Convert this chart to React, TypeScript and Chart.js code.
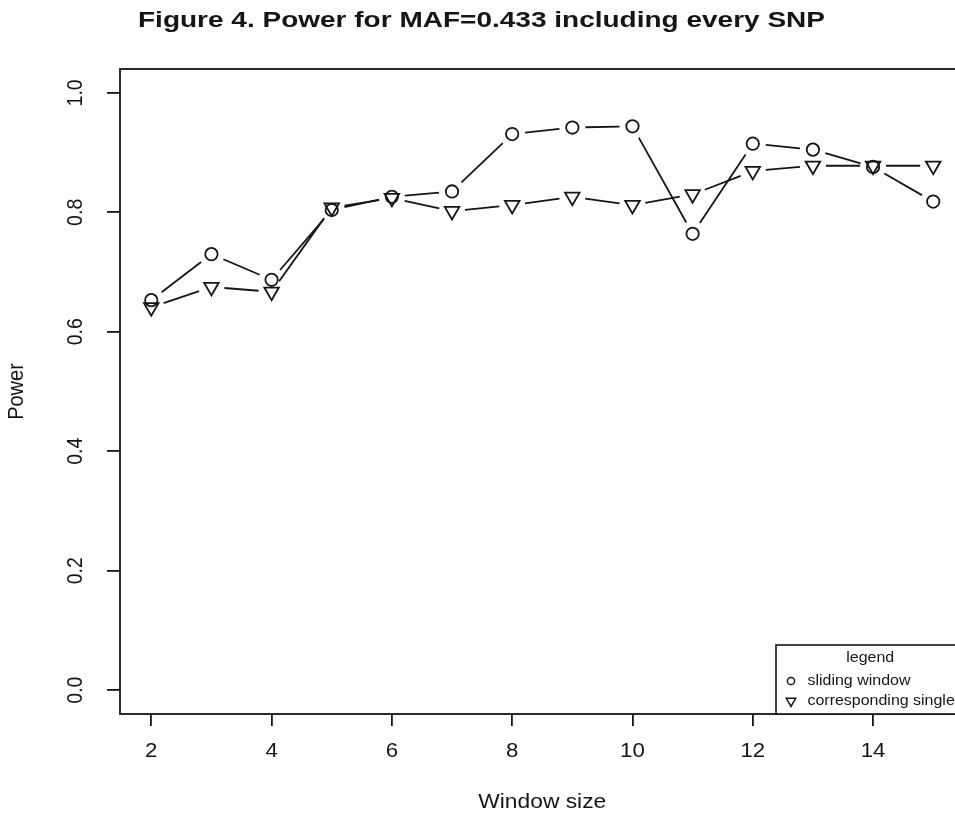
import React, { useEffect, useRef } from "react";
import { Chart, registerables } from "chart.js";

Chart.register(...registerables);

const windowSizes = [2, 3, 4, 5, 6, 7, 8, 9, 10, 11, 12, 13, 14, 15];
const slidingWindow = [0.653, 0.730, 0.687, 0.804, 0.826, 0.835, 0.931, 0.942, 0.944, 0.764, 0.915, 0.905, 0.876, 0.818];
const singleSnp = [0.641, 0.675, 0.667, 0.808, 0.824, 0.802, 0.812, 0.826, 0.812, 0.830, 0.869, 0.878, 0.878, 0.878];
const xTickValues = [2, 4, 6, 8, 10, 12, 14];
const yTickValues = [0, 0.2, 0.4, 0.6, 0.8, 1.0];
const yTickLabels = ["0.0", "0.2", "0.4", "0.6", "0.8", "1.0"];
const titleText = "Figure 4. Power for MAF=0.433 including every SNP";
const xTitle = "Window size";
const yTitle = "Power";
const legendTitle = "legend";
const seriesNames = ["sliding window", "corresponding single"];

const INK = "#151515";
const SX = 1.14; // horizontal stretch of the reference's text
const FONT = "'Liberation Sans', Arial, Helvetica, sans-serif";

function hText(ctx: CanvasRenderingContext2D, t: string, x: number, y: number, sx = SX) {
  ctx.save();
  ctx.translate(x, y);
  ctx.scale(sx, 1);
  ctx.fillText(t, 0, 0);
  ctx.restore();
}
function vText(ctx: CanvasRenderingContext2D, t: string, x: number, y: number) {
  ctx.save();
  ctx.translate(x, y);
  ctx.rotate(-Math.PI / 2);
  ctx.scale(1, SX);
  ctx.fillText(t, 0, 0);
  ctx.restore();
}

const gapLines = {
  id: "gapLines",
  beforeDatasetsDraw(chart: any) {
    const ctx = chart.ctx as CanvasRenderingContext2D;
    ctx.save();
    ctx.strokeStyle = INK;
    ctx.lineWidth = 1.8;
    chart.data.datasets.forEach((_ds: any, i: number) => {
      const pts = chart.getDatasetMeta(i).data;
      for (let k = 0; k < pts.length - 1; k++) {
        const a = pts[k], b = pts[k + 1];
        const dx = b.x - a.x, dy = b.y - a.y;
        const d = Math.hypot(dx, dy);
        const g = 13;
        if (d <= 2 * g) continue;
        const ux = dx / d, uy = dy / d;
        ctx.beginPath();
        ctx.moveTo(a.x + ux * g, a.y + uy * g);
        ctx.lineTo(b.x - ux * g, b.y - uy * g);
        ctx.stroke();
      }
    });
    ctx.restore();
  },
};

const decorations = {
  id: "decorations",
  afterDraw(chart: any) {
    const ctx = chart.ctx as CanvasRenderingContext2D;
    const ca = chart.chartArea;
    const xs = chart.scales.x;
    const ys = chart.scales.y;
    ctx.save();
    // plot box
    ctx.strokeStyle = INK;
    ctx.lineWidth = 1.8;
    ctx.strokeRect(ca.left, ca.top, ca.right - ca.left, ca.bottom - ca.top);

    ctx.fillStyle = INK;
    // x tick labels
    ctx.font = `19.5px ${FONT}`;
    ctx.textAlign = "center";
    ctx.textBaseline = "middle";
    xTickValues.forEach((v) => {
      hText(ctx, String(v), xs.getPixelForValue(v), 752);
    });
    // y tick labels (rotated)
    yTickValues.forEach((v, i) => {
      vText(ctx, yTickLabels[i], 76, ys.getPixelForValue(v));
    });
    // axis titles
    ctx.font = `20px ${FONT}`;
    hText(ctx, xTitle, (ca.left + ca.right) / 2, 802);
    vText(ctx, yTitle, 17, (ca.top + ca.bottom) / 2);

    // title
    ctx.font = `bold 22.5px ${FONT}`;
    const w = ctx.measureText(titleText).width;
    const sx = 687 / w;
    ctx.textBaseline = "alphabetic";
    hText(ctx, titleText, 481.5, 27, sx);

    // legend
    const lx = 776, lt = 645, lb = ca.bottom, lr = ca.right;
    ctx.fillStyle = "#fff";
    ctx.fillRect(lx, lt, lr - lx, lb - lt);
    ctx.strokeStyle = INK;
    ctx.lineWidth = 1.6;
    ctx.strokeRect(lx, lt, lr - lx, lb - lt);
    ctx.fillStyle = INK;
    ctx.font = `14px ${FONT}`;
    ctx.textBaseline = "middle";
    ctx.textAlign = "center";
    hText(ctx, legendTitle, (lx + lr) / 2, 658);
    ctx.textAlign = "left";
    hText(ctx, seriesNames[0], 807.5, 681);
    hText(ctx, seriesNames[1], 807.5, 701);
    ctx.lineWidth = 1.5;
    ctx.beginPath();
    ctx.arc(791, 681, 3.6, 0, Math.PI * 2);
    ctx.stroke();
    const r = 5.4;
    ctx.beginPath();
    ctx.moveTo(791, 701 + r);
    ctx.lineTo(791 + r * 0.866, 701 - r / 2);
    ctx.lineTo(791 - r * 0.866, 701 - r / 2);
    ctx.closePath();
    ctx.stroke();
    ctx.restore();
  },
};

export default function App() {
  const ref = useRef<HTMLCanvasElement | null>(null);
  useEffect(() => {
    if (!ref.current) return;
    const chart = new Chart(ref.current, {
      type: "line",
      data: {
        datasets: [
          {
            label: seriesNames[0],
            data: windowSizes.map((x, i) => ({ x, y: slidingWindow[i] })),
            showLine: false,
            pointStyle: "circle",
            pointRadius: 6.2,
            pointBorderWidth: 1.8,
            pointBorderColor: INK,
            pointBackgroundColor: "rgba(0,0,0,0)",
          },
          {
            label: seriesNames[1],
            data: windowSizes.map((x, i) => ({ x, y: singleSnp[i] })),
            showLine: false,
            pointStyle: "triangle",
            pointRotation: 180,
            pointRadius: 8.4,
            pointBorderWidth: 1.8,
            pointBorderColor: INK,
            pointBackgroundColor: "rgba(0,0,0,0)",
          },
        ],
      },
      options: {
        responsive: false,
        animation: false,
        events: [],
        layout: { padding: { left: 0, top: 69, right: 15.5, bottom: 0 } },
        plugins: { legend: { display: false }, title: { display: false }, tooltip: { enabled: false } },
        scales: {
          x: {
            type: "linear",
            min: 1.48,
            max: 15.52,
            afterBuildTicks: (s: any) => {
              s.ticks = xTickValues.map((v) => ({ value: v }));
            },
            afterFit: (s: any) => {
              s.height = 103;
            },
            ticks: { display: false },
            border: { display: false },
            grid: { drawOnChartArea: false, drawTicks: true, tickLength: 12, color: INK, lineWidth: 1.8 },
          },
          y: {
            type: "linear",
            min: -0.04,
            max: 1.04,
            afterBuildTicks: (s: any) => {
              s.ticks = yTickValues.map((v) => ({ value: v }));
            },
            afterFit: (s: any) => {
              s.width = 120;
            },
            ticks: { display: false },
            border: { display: false },
            grid: { drawOnChartArea: false, drawTicks: true, tickLength: 13, color: INK, lineWidth: 1.8 },
          },
        },
      },
      plugins: [gapLines, decorations],
    });
    return () => chart.destroy();
  }, []);
  return (
    <div style={{ position: "fixed", left: 0, top: 0, width: 955, height: 817, overflow: "hidden", background: "#fff" }}>
      <canvas ref={ref} width={980} height={817} style={{ display: "block" }} />
    </div>
  );
}
